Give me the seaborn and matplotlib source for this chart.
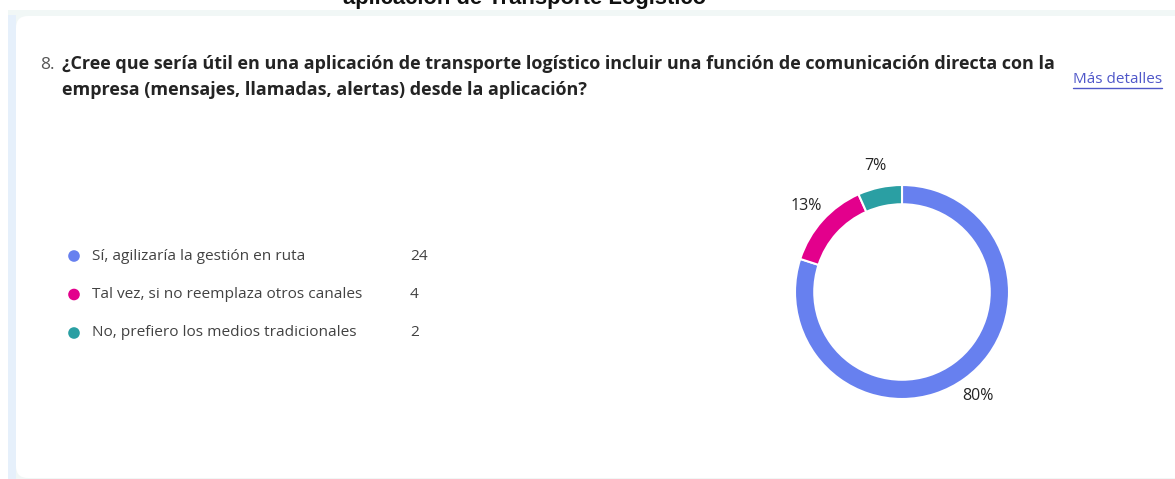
import matplotlib
matplotlib.use("Agg")
import matplotlib.pyplot as plt
from matplotlib.patches import Rectangle, FancyBboxPatch
import pandas as pd
import seaborn as sns

# --- datos ---
opciones = [
    "Sí, agilizaría la gestión en ruta",
    "Tal vez, si no reemplaza otros canales",
    "No, prefiero los medios tradicionales",
]
respuestas = [24, 4, 2]
colores = ["#6780EF", "#E3008C", "#2A9FA3"]

titulo_cortado = "aplicación de Transporte Logístico"
numero = "8."
pregunta = [
    "¿Cree que sería útil en una aplicación de transporte logístico incluir una función de comunicación directa con la",
    "empresa (mensajes, llamadas, alertas) desde la aplicación?",
]
enlace = "Más detalles"

sns.set_theme(style="white")
plt.rcParams["font.family"] = ["Open Sans", "DejaVu Sans"]

W, H = 1175, 479
fig = plt.figure(figsize=(W / 100, H / 100), dpi=100)
fig.patch.set_facecolor("white")

# fondo en coordenadas de pixel
bg = fig.add_axes([0, 0, 1, 1])
bg.set_xlim(0, W)
bg.set_ylim(H, 0)
bg.axis("off")
bg.add_patch(Rectangle((8, 10), W, H, color="#F1F7F6", lw=0))
bg.add_patch(Rectangle((8, 15), 8, H, color="#E6F0FB", lw=0))
bg.add_patch(FancyBboxPatch((16, 16), W + 40, 462, boxstyle="round,pad=0,rounding_size=12",
                            fc="white", ec="none"))

# titulo de la pagina, cortado arriba como en la captura
bg.text(525, 4, titulo_cortado, ha="center", va="baseline", fontsize=15.8,
        fontweight="bold", color="#111111", family=["Liberation Sans", "DejaVu Sans"])

bg.text(40, 69, numero, ha="left", va="baseline", fontsize=12.5, color="#555555")
for i, linea in enumerate(pregunta):
    bg.text(62, 69 + 26 * i, linea, ha="left", va="baseline", fontsize=12.95,
            fontweight="bold", color="#242424")

t_link = bg.text(1073, 83, enlace, ha="left", va="baseline", fontsize=11, color="#4F57C9")
fig.canvas.draw()
bb = t_link.get_window_extent().transformed(bg.transData.inverted())
bg.plot([bb.x0, bb.x1], [88, 88], color="#4F57C9", lw=1)

# leyenda con puntos de seaborn
leyenda = pd.DataFrame({"opcion": opciones, "n": respuestas})
leyenda["y"] = 256 + 38.5 * leyenda.index
leyenda["x"] = 74
sns.scatterplot(data=leyenda, x="x", y="y", hue="opcion", palette=colores, s=70,
                edgecolor="none", legend=False, ax=bg)
for _, fila in leyenda.iterrows():
    bg.text(92, fila["y"], fila["opcion"], va="center", fontsize=11.1, color="#424242")
    bg.text(410, fila["y"], str(fila["n"]), va="center", fontsize=11.1, color="#424242")
bg.set_xlim(0, W)
bg.set_ylim(H, 0)
bg.axis("off")

# dona
total = sum(respuestas)
porcentajes = [f"{round(100 * v / total)}%" for v in respuestas]
lado = 2.7 * 107
ax = fig.add_axes([(902 - lado / 2) / W, (H - 292 - lado / 2) / H, lado / W, lado / H])
_, textos = ax.pie(respuestas, colors=colores, startangle=90, counterclock=False, radius=1,
                   labels=porcentajes, labeldistance=1.2,
                   wedgeprops=dict(width=0.18, edgecolor="white", linewidth=1.5))
for t in textos:
    t.set_ha("center")
    t.set_va("center")
    t.set_fontsize(11.5)
    t.set_color("#242424")
ax.set_xlim(-1.35, 1.35)
ax.set_ylim(-1.35, 1.35)
ax.set_aspect("equal")
ax.axis("off")

fig.savefig("out.png", dpi=100)
